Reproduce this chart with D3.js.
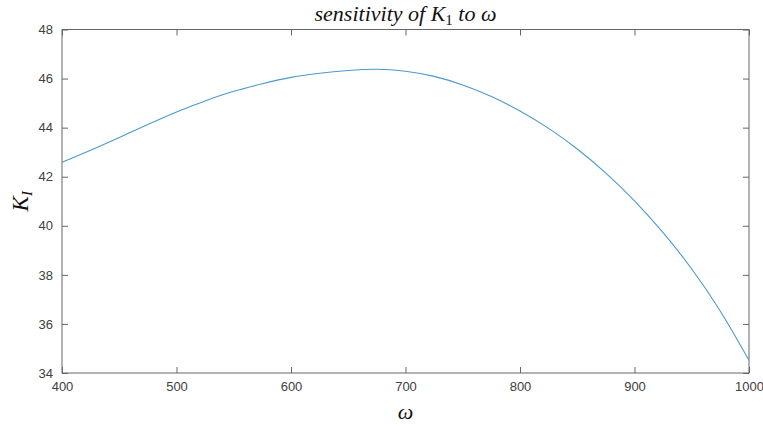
<!DOCTYPE html>
<html>
<head>
<meta charset="utf-8">
<script src="https://cdn.jsdelivr.net/npm/d3@7"></script>
<style>
  body { margin: 0; background: #fff; }
  svg { display: block; }
</style>
</head>
<body>
<svg id="chart" width="763" height="428"></svg>
<script>
// ---- data ----
const omega = [400, 425, 450, 475, 500, 525, 550, 575, 600, 625, 650, 675, 700,
               725, 750, 775, 800, 825, 850, 875, 900, 925, 950, 975, 1000];
const K1 = [42.59, 43.08, 43.60, 44.13, 44.64, 45.09, 45.48, 45.79, 46.05, 46.22, 46.33, 46.38, 46.30,
            46.09, 45.74, 45.27, 44.68, 43.97, 43.13, 42.15, 41.02, 39.72, 38.24, 36.52, 34.52];
const xTicks = [400, 500, 600, 700, 800, 900, 1000];
const yTicks = [34, 36, 38, 40, 42, 44, 46, 48];
const titleText = "sensitivity of ";
const xLabel = "ω";

(function () {
// ---- layout ----
const svg = d3.select("#chart");
const L = 62, R = 749, T = 29.5, B = 373;
const x = d3.scaleLinear().domain([400, 1000]).range([L, R]);
const y = d3.scaleLinear().domain([34, 48]).range([B, T]);

const axisColor = "#666";
const textColor = "#404040";
const tickLen = 6;

// box
svg.append("rect")
  .attr("x", L).attr("y", T).attr("width", R - L).attr("height", B - T)
  .attr("fill", "none").attr("stroke", axisColor).attr("stroke-width", 1);

// axes (ticks pointing inward)
const fontFam = "Helvetica, Arial, 'Liberation Sans', sans-serif";
const gBottom = svg.append("g").attr("transform", `translate(0,${B})`)
  .call(d3.axisBottom(x).tickValues(xTicks).tickSizeInner(-tickLen).tickSizeOuter(0).tickPadding(9).tickFormat(d3.format("d")));
const gTop = svg.append("g").attr("transform", `translate(0,${T})`)
  .call(d3.axisTop(x).tickValues(xTicks).tickSizeInner(-tickLen).tickSizeOuter(0).tickFormat(""));
const gLeft = svg.append("g").attr("transform", `translate(${L},0)`)
  .call(d3.axisLeft(y).tickValues(yTicks).tickSizeInner(-tickLen).tickSizeOuter(0).tickPadding(9).tickFormat(d3.format("d")));
const gRight = svg.append("g").attr("transform", `translate(${R},0)`)
  .call(d3.axisRight(y).tickValues(yTicks).tickSizeInner(-tickLen).tickSizeOuter(0).tickFormat(""));

[gBottom, gTop, gLeft, gRight].forEach(g => {
  g.select(".domain").remove();
  g.selectAll(".tick line").attr("stroke", axisColor);
  g.selectAll(".tick text").attr("fill", textColor)
    .style("font-family", fontFam).style("font-size", "13px");
});

// line
const line = d3.line()
  .x((d, i) => x(omega[i]))
  .y(d => y(d))
  .curve(d3.curveNatural);
svg.append("path")
  .datum(K1)
  .attr("d", line)
  .attr("fill", "none")
  .attr("stroke", "#4a9ad0")
  .attr("stroke-width", 1.1);

// title
const serif = "'Liberation Serif', 'DejaVu Serif', serif";
const title = svg.append("text")
  .attr("x", (L + R) / 2).attr("y", 21)
  .attr("text-anchor", "middle")
  .style("font-family", serif).style("font-style", "italic").style("font-size", "22px")
  .attr("fill", "#111");
title.append("tspan").text(titleText);
title.append("tspan").text("K");
title.append("tspan").attr("dy", 4).style("font-style", "normal").style("font-size", "15px").text("1");
title.append("tspan").attr("dy", -4).text(" to ω");

// x label
svg.append("text")
  .attr("x", (L + R) / 2).attr("y", 419)
  .attr("text-anchor", "middle")
  .style("font-family", serif).style("font-style", "italic").style("font-size", "22px")
  .attr("fill", "#111")
  .text(xLabel);

// y label
const yl = svg.append("text")
  .attr("transform", `translate(28,${(T + B) / 2}) rotate(-90)`)
  .attr("text-anchor", "middle")
  .style("font-family", serif).style("font-style", "italic").style("font-size", "23px")
  .attr("fill", "#111");
yl.append("tspan").text("K");
yl.append("tspan").attr("dy", 4).style("font-size", "15px").text("I");
})();
</script>
</body>
</html>
